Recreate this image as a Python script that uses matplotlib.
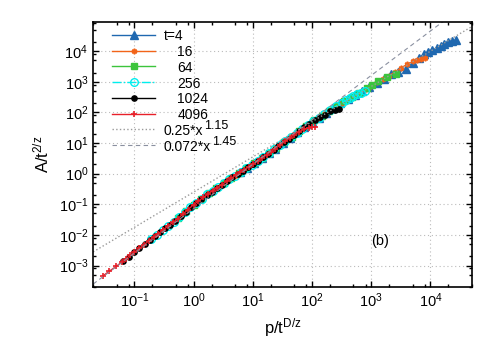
import numpy as np
import matplotlib
matplotlib.use('Agg')
import matplotlib.pyplot as plt
from matplotlib.ticker import LogLocator, NullFormatter

plt.rcParams['font.family'] = ['Liberation Sans', 'DejaVu Sans']
plt.rcParams['mathtext.default'] = 'regular'
plt.rcParams['mathtext.fontset'] = 'custom'
plt.rcParams['mathtext.rm'] = 'Liberation Sans'

# t = 4096
x_4096 = [0.029, 0.037, 0.049, 0.061, 0.072, 0.085, 0.1, 0.12, 0.145, 0.175, 0.21, 0.25, 0.3,
          0.37, 0.45, 0.54, 0.66, 0.8, 1.0, 1.2, 1.45, 1.75, 2.1, 2.5, 3.0, 3.6, 4.3, 5.1, 6.0,
          7.2, 8.6, 10, 12, 14.5, 17, 20, 24, 29, 35, 42, 50, 60, 72, 87, 100, 112]
y_4096 = [4.5e-4, 6.4e-4, 9.3e-4, 1.3e-3, 1.67e-3, 2.16e-3, 2.75e-3, 3.6e-3, 4.8e-3, 6.4e-3,
          8.4e-3, 0.0108, 0.0142, 0.0195, 0.026, 0.034, 0.048, 0.067, 0.098, 0.127, 0.167,
          0.219, 0.278, 0.348, 0.44, 0.56, 0.71, 0.88, 1.10, 1.36, 1.69, 2.04, 2.59, 3.32,
          4.09, 5.08, 6.59, 8.65, 11.3, 14.7, 18.9, 23, 28, 31, 33, 34]
# t = 1024
x_1024 = [0.065, 0.08, 0.1, 0.12, 0.15, 0.18, 0.22, 0.27, 0.33, 0.4, 0.49, 0.6, 0.73, 0.9, 1.1,
          1.35, 1.65, 2.0, 2.45, 3.0, 3.7, 4.5, 5.5, 6.7, 8.2, 10, 12.2, 15, 18.3, 22.4, 27,
          33, 40, 49, 60, 73, 90, 110, 135, 165, 200, 245, 280]
y_1024 = [1.43e-3, 1.96e-3, 2.75e-3, 3.6e-3, 5.06e-3, 6.64e-3, 8.95e-3, 0.0122, 0.0164, 0.0218,
          0.0295, 0.041, 0.057, 0.0817, 0.112, 0.150, 0.200, 0.261, 0.340, 0.44, 0.58, 0.75,
          0.97, 1.25, 1.60, 2.04, 2.65, 3.47, 4.50, 5.97, 7.81, 10.4, 13.7, 18.4, 24.5, 32.2,
          43.2, 56, 71, 85, 107, 123, 129]
# t = 256
x_256 = [0.19, 0.24, 0.3, 0.37, 0.46, 0.57, 0.71, 0.88, 1.1, 1.36, 1.7, 2.1, 2.6, 3.2, 4.0, 5.0,
         6.2, 7.7, 9.6, 12, 15, 18.5, 23, 28.5, 35, 44, 55, 68, 84, 105, 130, 160, 200, 250,
         318, 380, 440, 500, 570, 680, 790]
y_256 = [7.2e-3, 0.0102, 0.0142, 0.0195, 0.0269, 0.0375, 0.0545, 0.0786, 0.112, 0.152, 0.209,
         0.278, 0.366, 0.48, 0.644, 0.86, 1.135, 1.48, 1.94, 2.59, 3.47, 4.57, 6.21, 8.45,
         11.3, 15.7, 21.7, 29.2, 39.3, 53.1, 68, 89.8, 118, 156, 209, 250, 293, 340, 395,
         440, 490]
# t = 64
x_64 = [0.55, 0.75, 1.0, 1.35, 1.8, 2.4, 3.2, 4.3, 5.8, 7.8, 10.5, 14, 19, 25, 34, 45, 60, 80,
        108, 145, 195, 260, 350, 470, 630, 840, 1030, 1320, 1850, 2570]
y_64 = [0.0352, 0.060, 0.098, 0.150, 0.227, 0.330, 0.48, 0.71, 1.04, 1.50, 2.18, 3.18, 4.74,
        7.0, 10.9, 16.2, 24.5, 36.6, 55, 79, 115, 164, 233, 320, 440, 610, 790, 1070, 1440,
        1780]
# t = 16
x_16 = [2, 2.5, 3.2, 4, 5, 6.3, 8, 10, 12.6, 16, 20, 25, 32, 40, 50, 63, 80, 100, 126, 160,
        200, 250, 320, 400, 500, 630, 800, 1000, 1260, 1600, 2000, 2500, 3200, 4000, 5000,
        5900, 7000, 8200]
y_16 = [0.261, 0.348, 0.48, 0.644, 0.86, 1.156, 1.55, 2.04, 2.76, 3.78, 5.08, 7.0, 9.98, 13.7,
        18.9, 26.2, 36.6, 52, 65.6, 89.8, 118, 156, 210, 269, 342, 440, 577, 741, 949, 1228,
        1578, 2084, 2830, 3715, 4600, 5000, 5600, 6100]
# t = 4
x_4 = [6, 8, 10.5, 14, 18.5, 24, 32, 42, 56, 74, 98, 130, 170, 225, 300, 400, 530, 700, 930,
       1230, 1630, 2150, 2850, 3800, 5000, 6300, 7700, 9200, 10700, 13000, 15000, 17000,
       20000, 23000, 27000]
y_4 = [1.10, 1.55, 2.18, 3.18, 4.57, 6.59, 9.98, 14.7, 22.2, 32.9, 48.7, 68, 96.6, 137, 196,
       269, 364, 497, 682, 926, 1253, 1726, 2100, 2570, 4000, 5900, 7900, 9500, 10700, 13000,
       15100, 17400, 19500, 21300, 22400]

# fits: coef * x**expo
fit_coef = [0.25, 0.072]
fit_expo = [1.15, 1.45]

series = [
    (x_4, y_4, 't=4', dict(ls='-', marker='^', color='#1f68b0', ms=5.5)),
    (x_16, y_16, '16', dict(ls='-', marker=(6, 2, 0), color='#f26419', ms=4, mew=1.2)),
    (x_64, y_64, '64', dict(ls='-', marker='s', color='#3cc43c', ms=4.5)),
    (x_256, y_256, '256', dict(ls='-.', marker='o', color='#00eeee', ms=5.5, mfc='none', mew=1.0)),
    (x_1024, y_1024, '1024', dict(ls='-', marker='o', color='black', ms=3.8)),
    (x_4096, y_4096, '4096', dict(ls='-', marker='+', color='#e8202a', ms=5, mew=1.2)),
]
fit_styles = [dict(ls=':', color='#9a9a9a', lw=1.0),
              dict(ls=(0, (4, 3)), color='#8a90a0', lw=0.8)]

fig = plt.figure(figsize=(4.9, 3.42), dpi=100)
ax = fig.add_axes([0.19, 0.161, 0.773, 0.775])

for xs, ys, lab, st in series:
    ax.plot(xs, ys, lw=1.0, **st)

xf = np.logspace(np.log10(0.02), np.log10(5e4), 300)
for c, e, st in zip(fit_coef, fit_expo, fit_styles):
    ax.plot(xf, c * xf ** e, **st)

ax.set_xscale('log')
ax.set_yscale('log')
ax.set_xlim(0.02, 5e4)
ax.set_ylim(2e-4, 9e4)

for axis in (ax.xaxis, ax.yaxis):
    axis.set_minor_locator(LogLocator(base=10, subs=(2.0, 5.0, 8.0), numticks=20))
    axis.set_minor_formatter(NullFormatter())
ax.set_yticks([1e-3, 1e-2, 1e-1, 1, 10, 100, 1e3, 1e4])
ax.set_xticks([0.1, 1, 10, 100, 1e3, 1e4])

ax.tick_params(which='both', direction='in', top=True, right=True, labelsize=10.5)
ax.tick_params(which='major', length=4, width=1)
ax.tick_params(which='minor', length=2.2, width=1)
for s in ax.spines.values():
    s.set_linewidth(1.2)
ax.grid(True, which='major', linestyle=(0, (1, 2.5)), color='#bbbbbb', lw=0.8)

ax.set_xlabel('p/t$^{D/z}$', fontsize=12, labelpad=4)
ax.set_ylabel('A/t$^{2/z}$', fontsize=12, labelpad=5)
ax.text(0.757, 0.175, '(b)', transform=ax.transAxes, ha='center', va='center', fontsize=10.5)

# legend, drawn gnuplot-style with fixed row spacing
key_x0, key_x1, key_tx, key_tx2 = 0.050, 0.164, 0.187, 0.222
key_top, key_dy = 0.951, 0.0595
rows = [(lab, None, st, key_tx if i == 0 else key_tx2)
        for i, (_, _, lab, st) in enumerate(series)]
rows += [(f'{c}*x', f'{e}', st, key_tx) for c, e, st in zip(fit_coef, fit_expo, fit_styles)]
for i, (lab, sup, st, tx) in enumerate(rows):
    yk = key_top - i * key_dy
    line_st = {k: v for k, v in st.items() if k not in ('marker', 'ms', 'mew', 'mfc', 'lw')}
    ax.plot([key_x0, key_x1], [yk, yk], transform=ax.transAxes, clip_on=False,
            lw=st.get('lw', 1.0), **line_st)
    if 'marker' in st:
        ax.plot([(key_x0 + key_x1) / 2], [yk], transform=ax.transAxes, ls='none',
                marker=st['marker'], color=st['color'], ms=st['ms'],
                mew=st.get('mew', 1.0), mfc=st.get('mfc', st['color']))
    t = ax.text(tx, yk, lab, transform=ax.transAxes, ha='left', va='center_baseline',
                fontsize=10)
    if sup:
        ax.annotate(sup, xy=(1.0, 0.42), xycoords=t, xytext=(0.3, 0),
                    textcoords='offset points', ha='left', va='bottom', fontsize=9)

fig.savefig('out.png', dpi=100)
